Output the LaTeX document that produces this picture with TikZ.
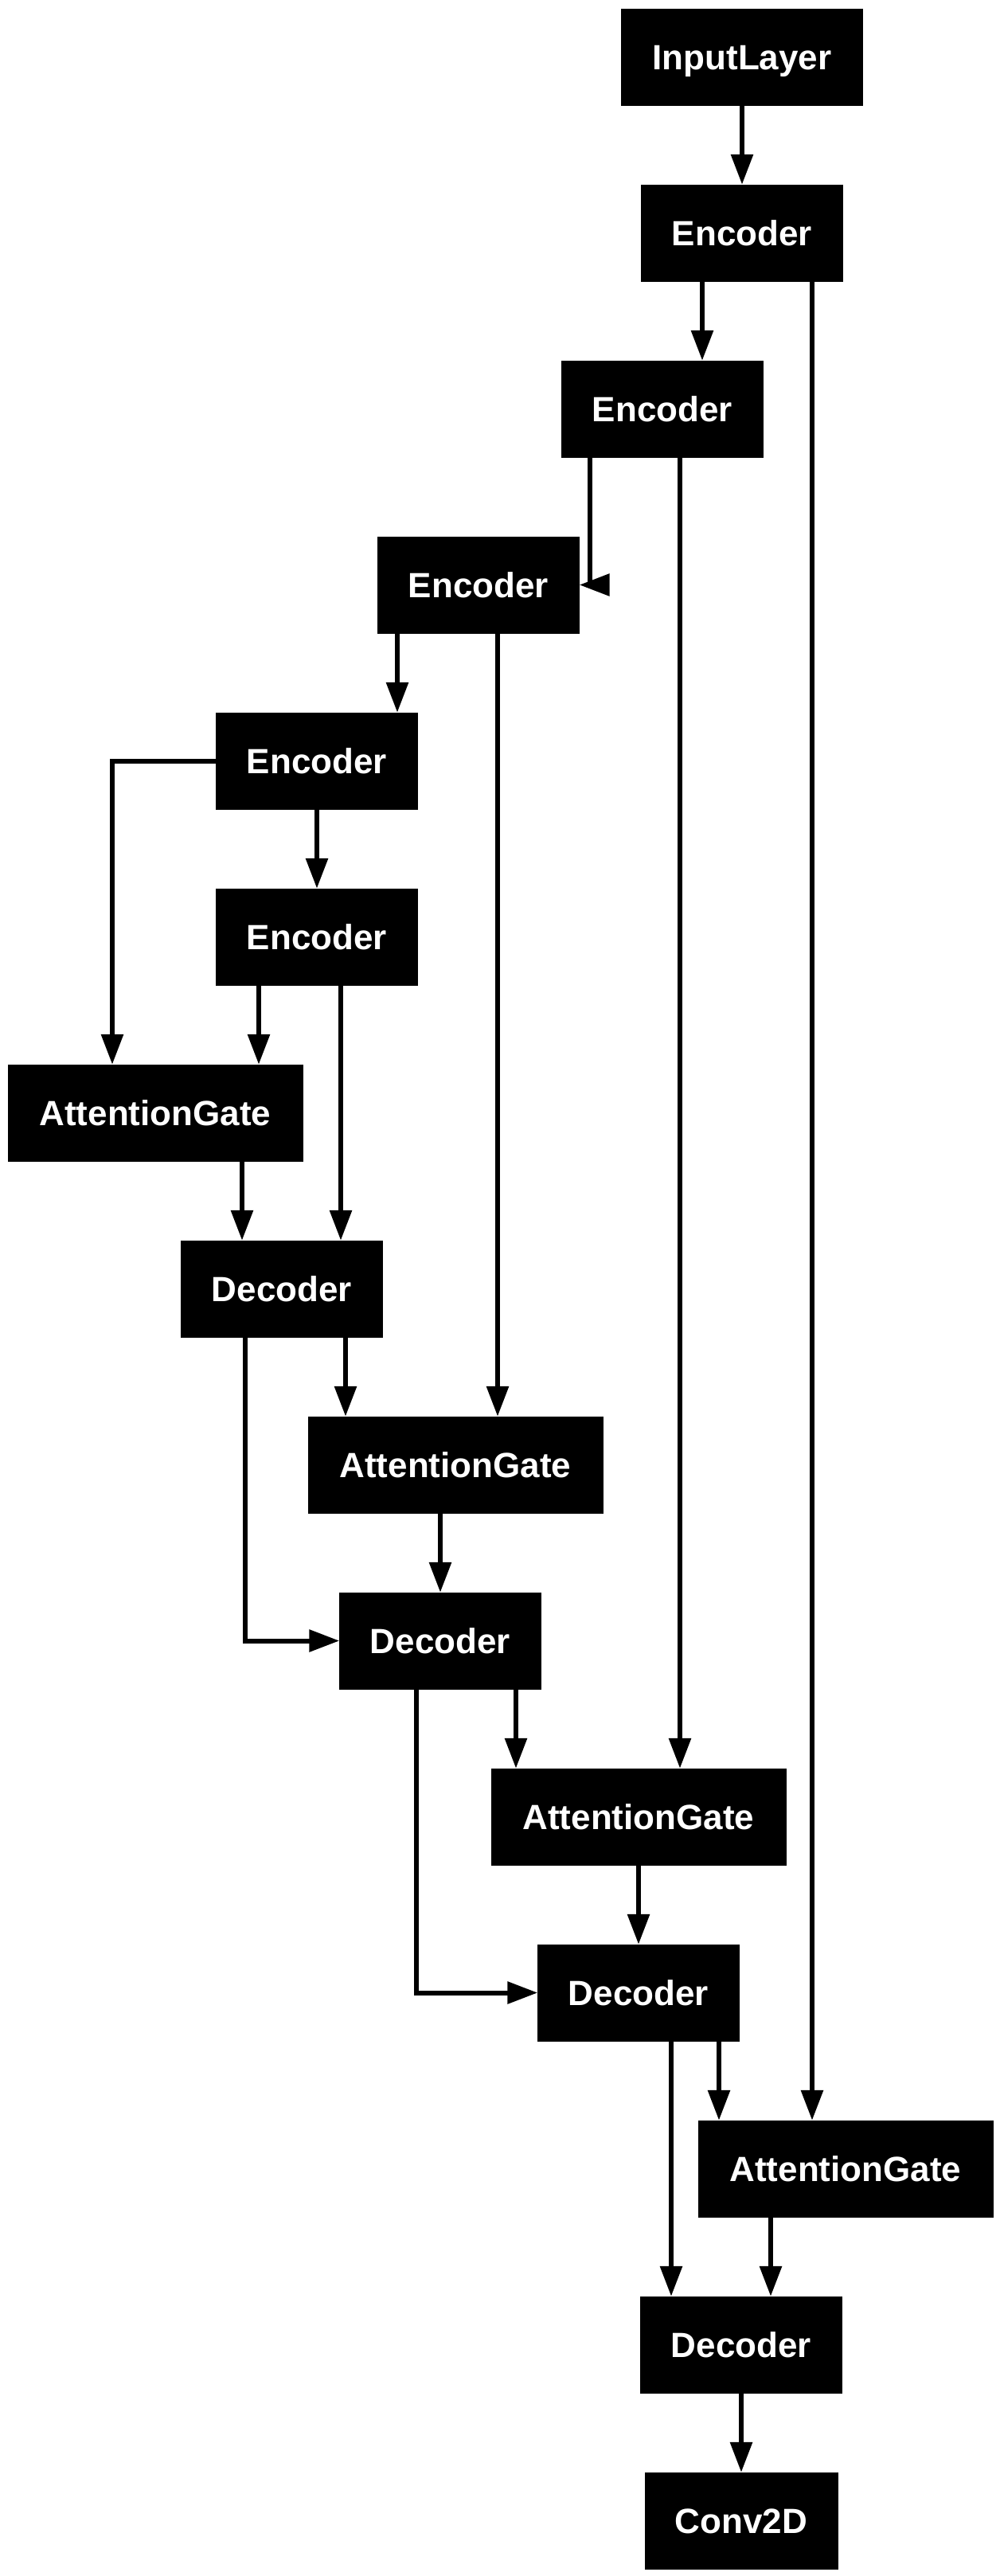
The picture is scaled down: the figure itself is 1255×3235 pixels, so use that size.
\documentclass[tikz,border=0pt]{standalone}
\usepackage{fontspec}
\setmainfont{Liberation Sans}
\usetikzlibrary{arrows.meta}

\begin{document}
\begin{tikzpicture}[
    x=1pt, y=-1pt,
    every node/.style={font=\fontsize{44}{50}\selectfont\bfseries},
    layer/.style={rectangle, draw=black, fill=black, text=white, inner sep=0pt, minimum width=253pt, minimum height=121pt, text height=31.5pt, text depth=0pt, align=center},
    gate/.style={layer, minimum width=370pt},
    arrow/.style={-{Triangle[length=38pt, width=27pt]}, line width=6pt}
]
\useasboundingbox (0,0) rectangle (1255,3235);
\node[layer, minimum width=303pt] (input) at (932,71.5) {InputLayer};
\node[layer] (enc1) at (932,292.5) {Encoder};
\node[layer] (enc2) at (832,513.5) {Encoder};
\node[layer] (enc3) at (601,734.5) {Encoder};
\node[layer] (enc4) at (398,955.5) {Encoder};
\node[layer] (enc5) at (398,1176.5) {Encoder};
\node[gate] (gate1) at (195,1397.5) {AttentionGate};
\node[layer] (dec1) at (354,1618.5) {Decoder};
\node[gate] (gate2) at (572,1839.5) {AttentionGate};
\node[layer] (dec2) at (553,2060.5) {Decoder};
\node[gate] (gate3) at (802,2281.5) {AttentionGate};
\node[layer] (dec3) at (802,2502.5) {Decoder};
\node[gate] (gate4) at (1062,2723.5) {AttentionGate};
\node[layer] (dec4) at (931,2944.5) {Decoder};
\node[layer, minimum width=242pt] (conv) at (931,3165.5) {Conv2D};
\draw[arrow] (input) -- (enc1);
\draw[arrow] ([xshift=-50pt]enc1.south) -- ([xshift=50pt]enc2.north);
\draw[arrow] ([xshift=88pt]enc1.south) -- ([xshift=-42pt]gate4.north);
\draw[arrow] ([xshift=-91pt]enc2.south) |- (enc3.east);
\draw[arrow] ([xshift=22pt]enc2.south) -- ([xshift=52pt]gate3.north);
\draw[arrow] ([xshift=-102pt]enc3.south) -- ([xshift=101pt]enc4.north);
\draw[arrow] ([xshift=24pt]enc3.south) -- ([xshift=53pt]gate2.north);
\draw[arrow] (enc4.west) -| ([xshift=-54pt]gate1.north);
\draw[arrow] (enc4) -- (enc5);
\draw[arrow] ([xshift=-73pt]enc5.south) -- ([xshift=130pt]gate1.north);
\draw[arrow] ([xshift=30pt]enc5.south) -- ([xshift=74pt]dec1.north);
\draw[arrow] ([xshift=109pt]gate1.south) -- ([xshift=-50pt]dec1.north);
\draw[arrow] ([xshift=-46pt]dec1.south) |- (dec2.west);
\draw[arrow] ([xshift=80pt]dec1.south) -- ([xshift=-138pt]gate2.north);
\draw[arrow] ([xshift=-19pt]gate2.south) -- (dec2.north);
\draw[arrow] ([xshift=-30pt]dec2.south) |- (dec3.west);
\draw[arrow] ([xshift=95pt]dec2.south) -- ([xshift=-154pt]gate3.north);
\draw[arrow] (gate3) -- (dec3);
\draw[arrow] ([xshift=41pt]dec3.south) -- ([xshift=-88pt]dec4.north);
\draw[arrow] ([xshift=101pt]dec3.south) -- ([xshift=-159pt]gate4.north);
\draw[arrow] ([xshift=-94pt]gate4.south) -- ([xshift=37pt]dec4.north);
\draw[arrow] (dec4) -- (conv);
\end{tikzpicture}
\end{document}
